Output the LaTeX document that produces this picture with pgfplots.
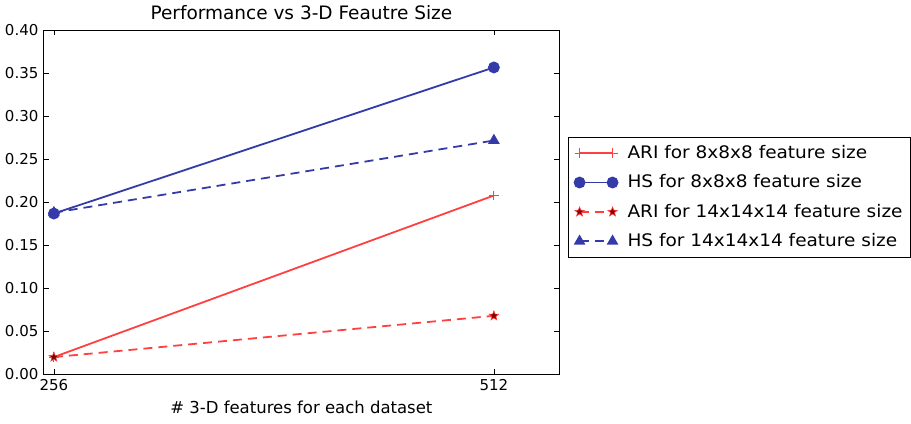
\documentclass[border=0pt]{standalone}
\usepackage{fontspec}
\setmainfont{DejaVu Sans}
\newfontfamily\legfont[FakeStretch=1.07]{DejaVu Sans}
\usepackage{pgfplots}
\pgfplotsset{compat=1.18}
\definecolor{mred}{RGB}{255,64,64}
\definecolor{mblue}{RGB}{52,58,168}
\definecolor{dred}{RGB}{130,0,0}
\pgfdeclareplotmark{fstar}{%
 \pgfpathmoveto{\pgfqpointpolar{90}{\pgfplotmarksize}}%
 \pgfpathlineto{\pgfqpointpolar{126}{0.42\pgfplotmarksize}}%
 \pgfpathlineto{\pgfqpointpolar{162}{\pgfplotmarksize}}%
 \pgfpathlineto{\pgfqpointpolar{198}{0.42\pgfplotmarksize}}%
 \pgfpathlineto{\pgfqpointpolar{234}{\pgfplotmarksize}}%
 \pgfpathlineto{\pgfqpointpolar{270}{0.42\pgfplotmarksize}}%
 \pgfpathlineto{\pgfqpointpolar{306}{\pgfplotmarksize}}%
 \pgfpathlineto{\pgfqpointpolar{342}{0.42\pgfplotmarksize}}%
 \pgfpathlineto{\pgfqpointpolar{18}{\pgfplotmarksize}}%
 \pgfpathlineto{\pgfqpointpolar{54}{0.42\pgfplotmarksize}}%
 \pgfpathclose
 \pgfusepathqfillstroke
}
\begin{document}
\fontsize{15}{18}\selectfont
\begin{tikzpicture}
\begin{axis}[
  at={(0pt,0pt)}, anchor=south west,
  scale only axis, width=516pt, height=344pt,
  xmin=250, xmax=550, ymin=0, ymax=0.4,
  xtick={256,512},
  ytick={0,0.05,0.1,0.15,0.2,0.25,0.3,0.35,0.4},
  yticklabel style={/pgf/number format/.cd, fixed, fixed zerofill, precision=2},
  /pgf/number format/assume math mode=true,
  tick align=inside, tick pos=both, major tick length=5pt,
  tick style={black, line width=0.6pt},
  axis line style={black, line width=1pt},
  title={Performance vs 3-D Feautre Size},
  title style={font=\fontsize{18.5}{22}\selectfont},
  xlabel={\# 3-D features for each dataset},
  xlabel style={font=\fontsize{16.5}{19}\selectfont},
  legend style={at={(1.0174,0.69)}, anchor=north west, draw=black, line width=0.8pt,
    inner xsep=6pt, inner ysep=6pt, row sep=10pt,
    nodes={font=\legfont\fontsize{17.3}{20}\selectfont},
    /tikz/every odd column/.append style={column sep=8pt}},
  legend cell align=left,
  legend image code/.code={\draw[#1] plot coordinates {(0pt,0pt) (33pt,0pt)};},
]
\addplot[mred, line width=1.8pt, mark=+, mark size=5pt, mark options={solid, line width=0.8pt}]
  coordinates {(256,0.020) (512,0.208)};
\addlegendentry{ARI for 8x8x8 feature size}
\addplot[mblue, line width=1.8pt, mark=*, mark size=5pt, mark options={solid, fill=mblue}]
  coordinates {(256,0.187) (512,0.357)};
\addlegendentry{HS for 8x8x8 feature size}
\addplot[mred, line width=1.8pt, dash pattern=on 9pt off 6pt, mark=fstar, mark size=5pt,
  mark options={solid, draw=mred, fill=dred, line width=0.6pt}]
  coordinates {(256,0.020) (512,0.068)};
\addlegendentry{ARI for 14x14x14 feature size}
\addplot[mblue, line width=1.8pt, dash pattern=on 9pt off 6pt, mark=triangle*, mark size=5pt,
  mark options={solid, fill=mblue}]
  coordinates {(256,0.188) (512,0.272)};
\addlegendentry{HS for 14x14x14 feature size}
\end{axis}
\path[use as bounding box] (-43pt,-49pt) rectangle (868pt,373pt);
\end{tikzpicture}
\end{document}
